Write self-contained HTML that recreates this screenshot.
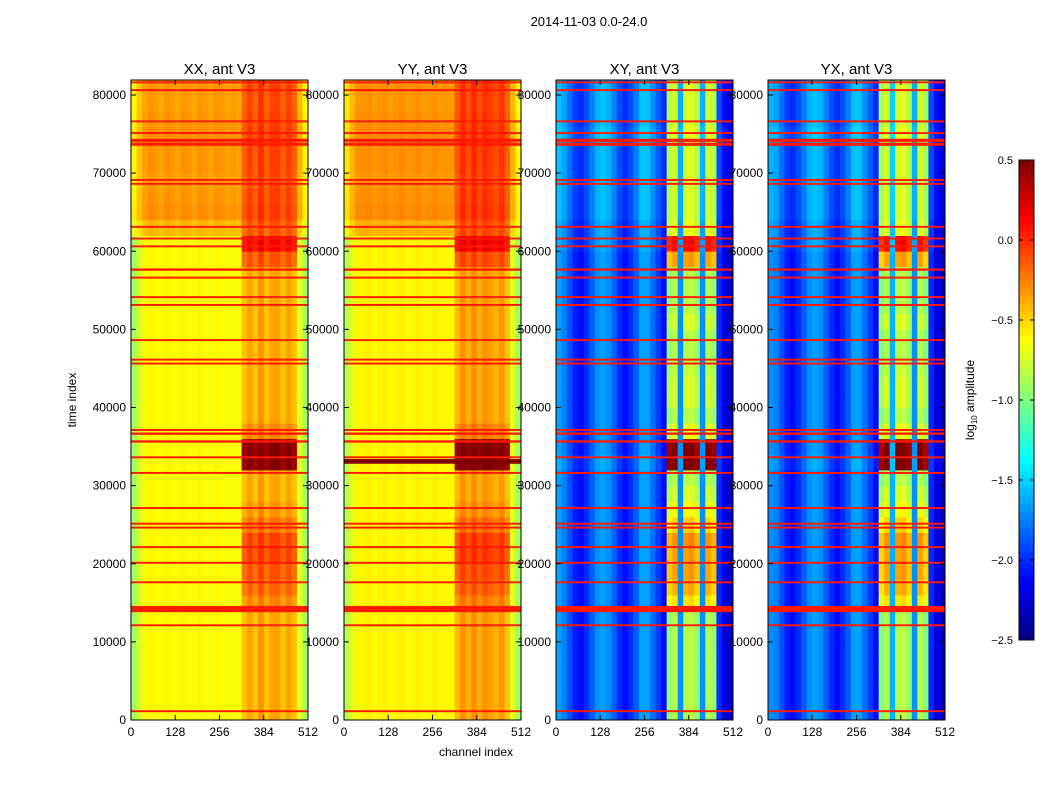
<!DOCTYPE html>
<html><head><meta charset="utf-8"><style>
body{margin:0;background:#fff;font-family:"Liberation Sans",sans-serif}
svg text{font-family:"Liberation Sans",sans-serif}
</style></head><body>
<svg id="fig" width="1050" height="800" xmlns="http://www.w3.org/2000/svg">
<rect width="1050" height="800" fill="#fff"/>
<text x="589" y="26" font-size="13" text-anchor="middle">2014-11-03 0.0-24.0</text>
<text x="476" y="756" font-size="12" text-anchor="middle">channel index</text>
<text x="76" y="400" font-size="12" text-anchor="middle" transform="rotate(-90 76 400)">time index</text>
<g id="panels"></g>
<g id="cbar"></g>
</svg>
<script>
// ---- data ----
const panelTitles = ["XX, ant V3","YY, ant V3","XY, ant V3","YX, ant V3"];
const yTicks = [0,10000,20000,30000,40000,50000,60000,70000,80000];
const xTicks = [0,128,256,384,512];
const cbTicks = [0.5,0.0,-0.5,-1.0,-1.5,-2.0,-2.5];
const chanXX = [-0.9,-0.75,-0.65,-0.6,-0.62,-0.65,-0.6,-0.62,-0.65,-0.6,-0.62,-0.65,-0.6,-0.62,-0.65,-0.6,-0.62,-0.65,-0.62,-0.65,-0.45,-0.35,-0.45,-0.3,-0.45,-0.35,-0.35,-0.45,-0.35,-0.45,-0.7,-0.9];
const chanYY = [-0.85,-0.7,-0.6,-0.6,-0.58,-0.62,-0.6,-0.58,-0.62,-0.6,-0.58,-0.62,-0.6,-0.58,-0.62,-0.6,-0.58,-0.62,-0.6,-0.62,-0.42,-0.3,-0.4,-0.28,-0.4,-0.3,-0.35,-0.4,-0.32,-0.45,-0.7,-0.9];
const chanXY = [-1.65,-1.75,-1.9,-2.05,-2.1,-2.0,-1.85,-1.7,-1.65,-1.7,-1.85,-2.0,-2.1,-2.0,-1.85,-1.65,-1.65,-1.8,-1.95,-2.1,-0.95,-0.85,-1.7,-0.85,-0.8,-0.95,-1.7,-0.85,-0.95,-2.0,-2.2,-2.3];
const chanYX = [-1.7,-1.75,-1.9,-2.05,-2.1,-2.0,-1.85,-1.7,-1.65,-1.7,-1.85,-2.0,-2.1,-2.0,-1.85,-1.65,-1.65,-1.8,-1.95,-2.1,-1.0,-0.85,-1.6,-0.85,-0.8,-0.95,-1.7,-0.85,-1.0,-2.0,-2.2,-2.3];
const timeAuto = [0,0,0,0,0,0,0,0,0,0,0,0,0,0,0,0,0,0,0,0,0,0,0,0,0,0,0,0,0,0,0,0.2,0.32,0.3,0.28,0.3,0.3,0.32,0.3,0.28,0.3];
const timeCross = [0,0,0,0,0,0,0,0,0,0,0,0,0,0,0,0,0.05,0,0,0,0,0,0,0,0,0,0,0,0,0,0.05,0.05,0.1,0.1,0.1,0.1,0.1,0.15,0.1,0.1,0.1];
const rfiAuto = [0,0,0,0,0,0,0,0.1,0.2,0.25,0.3,0.3,0.15,0.05,0,0,0.85,0.85,0.1,0,0,0,0,0,0,0,0,0,0,0.25,0.5,0.05,0,0,0,0,0,0,0,0,0];
const rfiCross = [0,0,0,0,0,0,0,0.3,0.45,0.5,0.5,0.55,0.35,0.2,0.1,0,1.35,1.35,0.15,0,0.1,0.1,0.05,0,0,0.1,0,0,0,0.5,0.9,0.1,0,0,0,0,0,0,0,0,0];
const flagTimes = [1000,12000,13800,17500,20000,22000,24500,25000,27000,31500,33500,35500,36500,37000,45500,46000,48500,53000,54000,56500,57500,60500,61500,63000,68500,69000,73500,74000,75000,76500,80500,81500];
const flagDur   = [250,250,800,250,250,250,250,250,250,250,250,300,300,250,250,250,250,250,250,250,300,250,250,250,250,250,400,400,250,250,250,250];
const flagVal = 0.05;
// ---- helpers ----
const NS="http://www.w3.org/2000/svg";
const px0=[131,344,556,768], pw=177, pTop=80, pBot=720, tMax=81920;
const vmin=-2.5, vmax=0.5;
function yS(t){return pBot-(t/tMax)*(pBot-pTop);}
function jet(v){let t=(v-vmin)/(vmax-vmin);t=Math.max(0,Math.min(1,t));
 const c=x=>Math.round(255*Math.max(0,Math.min(1,x)));
 return `rgb(${c(1.5-Math.abs(4*t-3))},${c(1.5-Math.abs(4*t-2))},${c(1.5-Math.abs(4*t-1))})`;}
function el(tag,attrs,parent){const e=document.createElementNS(NS,tag);for(const k in attrs)e.setAttribute(k,attrs[k]);parent.appendChild(e);return e;}
const panels=document.getElementById('panels');
const chans=[chanXX,chanYY,chanXY,chanYX];
for(let p=0;p<4;p++){
 const x0=px0[p], auto=p<2, chan=chans[p];
 const tArr=auto?timeAuto:timeCross, rArr=auto?rfiAuto:rfiCross;
 const g=el('g',{},panels);
 
 
 const cw=pw/chan.length;
 for(let j=0;j<41;j++){
  const y1=yS(Math.min(tMax,(j+1)*2000)), y0=yS(j*2000);
  for(let i=0;i<chan.length;i++){
   const inRfi = i>=20 && i<=29 && (auto || chan[i]>-1.2);
   let v=chan[i]+tArr[j]+(inRfi?rArr[j]:0);
   const r=el('rect',{x:(x0+i*cw).toFixed(2),y:y1.toFixed(2),width:(cw+0.4).toFixed(2),height:(y0-y1+0.4).toFixed(2),fill:jet(v)},g);
   
   
  }
 }
 for(let k=0;k<flagTimes.length;k++){
  const yA=yS(flagTimes[k]+flagDur[k]), yB=yS(flagTimes[k]);
  const r=el('rect',{x:x0,y:yA.toFixed(2),width:pw,height:Math.max(1.2,yB-yA).toFixed(2),fill:jet(flagVal)},g);
  
  
 }
 if(p===1){const yA=yS(33400),yB=yS(32800);const r=el('rect',{x:x0,y:yA,width:pw,height:yB-yA,fill:jet(0.5)},g);
  
  }
 const fr=el('rect',{x:x0,y:pTop,width:pw,height:pBot-pTop,fill:'none',stroke:'#000','stroke-width':1},g);
 
 
 const tt=el('text',{x:x0+pw/2,y:pTop-6,'font-size':15,'text-anchor':'middle'},g);tt.textContent=panelTitles[p];
 
 
 for(const v of yTicks){const y=yS(v);
  el('line',{x1:x0,x2:x0+5,y1:y,y2:y,stroke:'#000'},g);el('line',{x1:x0+pw-5,x2:x0+pw,y1:y,y2:y,stroke:'#000'},g);
  const t=el('text',{x:x0-5,y:y+4,'font-size':12,'text-anchor':'end'},g);t.textContent=v;
  
  }
 for(const v of xTicks){const x=x0+v/512*pw;
  el('line',{x1:x,x2:x,y1:pBot,y2:pBot-5,stroke:'#000'},g);el('line',{x1:x,x2:x,y1:pTop,y2:pTop+5,stroke:'#000'},g);
  const t=el('text',{x:x,y:pBot+16,'font-size':12,'text-anchor':'middle'},g);t.textContent=v;
  
  }
}
const cb=document.getElementById('cbar');
const cbx=1019,cbw=15,cbt=160,cbb=640;
for(let k=0;k<120;k++){const v=vmin+(k+0.5)/120*(vmax-vmin);const y=cbb-(k+1)*(cbb-cbt)/120;
 const r=el('rect',{x:cbx,y:y.toFixed(2),width:cbw,height:((cbb-cbt)/120+0.5).toFixed(2),fill:jet(v)},cb);
 
 }
el('rect',{x:cbx,y:cbt,width:cbw,height:cbb-cbt,fill:'none',stroke:'#000'},cb);
for(const v of cbTicks){const y=cbb-(v-vmin)/(vmax-vmin)*(cbb-cbt);
 el('line',{x1:cbx,x2:cbx+4,y1:y,y2:y,stroke:'#000'},cb);
 el('line',{x1:cbx+cbw-4,x2:cbx+cbw,y1:y,y2:y,stroke:'#000'},cb);
 const t=el('text',{x:1013,y:y+4,'font-size':11,'text-anchor':'end'},cb);
 t.textContent=(v<0?'\u2212':'')+Math.abs(v).toFixed(1);
 
 }
const cl=el('text',{x:974,y:400,'font-size':12,'text-anchor':'middle',transform:'rotate(-90 974 400)'},cb);
cl.innerHTML='log<tspan font-size="8" dy="3">10</tspan><tspan dy="-3"> amplitude</tspan>';


</script>
</body></html>
